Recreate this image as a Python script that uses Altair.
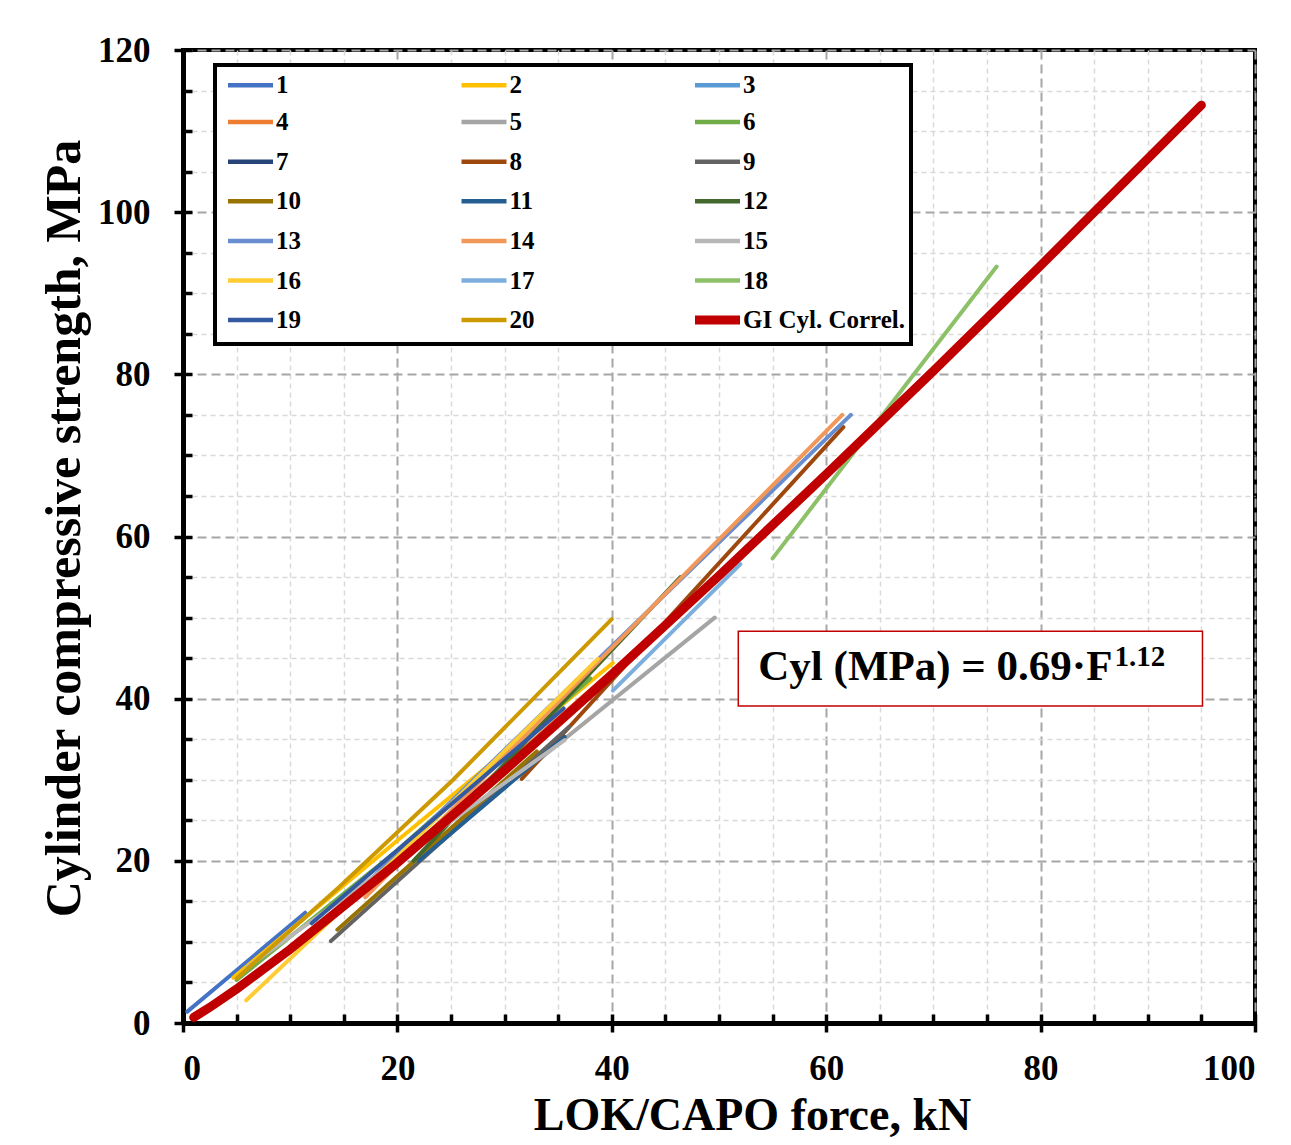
import altair as alt
import pandas as pd

FONT = "Liberation Serif"

series_names = [str(i) for i in range(1, 21)] + ["GI Cyl. Correl."]
series_colors = [
    "#4472C4", "#FFC000", "#5B9BD5", "#ED7D31", "#A5A5A5", "#70AD47",
    "#264478", "#9E480E", "#636363", "#997300", "#255E91", "#43682B",
    "#698ED0", "#F1975A", "#B7B7B7", "#FFCD33", "#7CAFDD", "#8CC168",
    "#335AA1", "#CC9A00", "#C00000",
]

# LOK/CAPO force (kN) and cylinder strength (MPa), series 1..20
series_f = [
    [0.4, 11.4],
    [4.7, 20.0, 40.1],
    [62.0, 80.0, 95.0],
    [18.0, 45.0],
    [22.0, 49.6],
    [5.0, 20.0, 38.0],
    [16.0, 36.0],
    [31.6, 61.6],
    [13.8, 36.0],
    [14.4, 33.0],
    [22.0, 35.6],
    [21.5, 46.4],
    [15.0, 62.3],
    [17.0, 61.5],
    [6.0, 35.6],
    [5.9, 20.0, 38.7],
    [40.1, 52.0],
    [55.0, 75.9],
    [12.0, 35.5],
    [5.0, 14.6, 25.2, 40.0],
]
series_c = [
    [1.4, 13.6],
    [5.6, 22.5, 44.4],
    [70.2, 93.6, 113.5],
    [17.8, 49.2],
    [20.5, 50.0],
    [5.3, 21.3, 42.5],
    [15.5, 38.5],
    [30.1, 73.5],
    [10.1, 36.5],
    [11.5, 33.5],
    [20.0, 35.3],
    [20.0, 55.0],
    [14.5, 75.0],
    [15.5, 75.0],
    [6.9, 34.9],
    [2.8, 20.5, 44.9],
    [41.0, 56.6],
    [57.3, 93.3],
    [12.3, 38.8],
    [5.5, 16.8, 30.0, 49.8],
]

# GI cylinder correlation curve
correl_f = [1, 2.5, 5, 10, 20, 30, 40, 50, 60, 70, 80, 95]
correl_c = [0.69, 1.93, 4.19, 9.09, 19.77, 31.14, 42.97, 55.16, 67.67, 80.42, 93.41, 113.2]

x_major = [0, 20, 40, 60, 80, 100]
x_minor = [5, 10, 15, 25, 30, 35, 45, 50, 55, 65, 70, 75, 85, 90, 95]
y_major = [0, 20, 40, 60, 80, 100, 120]
y_minor = [5, 10, 15, 25, 30, 35, 45, 50, 55, 65, 70, 75, 85, 90, 95, 105, 110, 115]

# equation annotation
box_x = [51.8]
box_x2 = [95.1]
box_y = [39.1]
box_y2 = [48.3]
eq_text = ["Cyl (MPa) = 0.69\u00b7F"]
eq_x = [86.7]
eq_y = [42.3]
sup_text = ["1.12"]
sup_x = [86.9]
sup_y = [44.0]

rows = []
for name, fs, cs in zip(series_names[:20], series_f, series_c):
    for f, c in zip(fs, cs):
        rows.append({"series": name, "F": f, "C": c})
df_series = pd.DataFrame(rows)
df_corr = pd.DataFrame({"series": series_names[20], "F": correl_f, "C": correl_c})
df_box = pd.DataFrame({"F": box_x, "F2": box_x2, "C": box_y, "C2": box_y2})
df_eq = pd.DataFrame({"F": eq_x, "C": eq_y, "t": eq_text})
df_sup = pd.DataFrame({"F": sup_x, "C": sup_y, "t": sup_text})

xs = alt.Scale(domain=[0, 100], nice=False, zero=False)
ys = alt.Scale(domain=[0, 120], nice=False, zero=False)

lab = dict(labelFont=FONT, labelFontSize=35, labelFontWeight="bold", labelColor="black")
tick = dict(tickColor="black", tickWidth=3.5, tickSize=9)

x_axis_major = alt.Axis(orient="bottom", values=x_major, domain=True, domainWidth=5,
                        domainColor="black", labelPadding=19, grid=True, gridColor="#A6A6A6",
                        gridDash=[9, 5], gridWidth=2, title="LOK/CAPO force, kN",
                        titleFont=FONT, titleFontSize=46, titleFontWeight="bold",
                        titleColor="black", titlePadding=7, titleX=569, **lab, **tick)
y_axis_major = alt.Axis(orient="left", values=y_major, domain=True, domainWidth=5,
                        domainColor="black", labelPadding=24, grid=True, gridColor="#A6A6A6",
                        gridDash=[9, 5], gridWidth=2, title="Cylinder compressive strength, MPa",
                        titleFont=FONT, titleFontSize=50, titleFontWeight="bold",
                        titleColor="black", titlePadding=8, titleY=478, **lab, **tick)
x_axis_minor = alt.Axis(orient="bottom", values=x_minor, offset=-9, domain=False, labels=False,
                        grid=True, gridColor="#D9D9D9", gridDash=[5, 4], gridWidth=1.5,
                        title=None, **tick)
y_axis_minor = alt.Axis(orient="left", values=y_minor, offset=-9, domain=False, labels=False,
                        grid=True, gridColor="#D9D9D9", gridDash=[5, 4], gridWidth=1.5,
                        title=None, **tick)
x_axis_inner = alt.Axis(orient="bottom", values=x_major, offset=-9, domain=False, labels=False,
                        grid=False, title=None, **tick)
y_axis_inner = alt.Axis(orient="left", values=y_major, offset=-9, domain=False, labels=False,
                        grid=False, title=None, **tick)

legend = alt.Legend(
    title=None, orient="none", legendX=32, legendY=15, columns=3, direction="horizontal",
    gridAlign="all", columnPadding=4.5, rowPadding=2.6, symbolType="stroke", symbolSize=2025,
    symbolOffset=18,
    symbolStrokeWidth=alt.ExprRef("datum.value === 'GI Cyl. Correl.' ? 9 : 4.5"),
    labelFont=FONT, labelFontSize=25, labelFontWeight="bold",
    labelColor="black", labelOffset=13, labelLimit=400, padding=5, strokeColor="black",
    fillColor="white",
)
color = alt.Color("series:N", scale=alt.Scale(domain=series_names, range=series_colors),
                  sort=series_names, legend=legend)

lines = alt.Chart(df_series).mark_line(strokeWidth=4, strokeCap="round").encode(
    x=alt.X("F:Q", scale=xs, axis=x_axis_major),
    y=alt.Y("C:Q", scale=ys, axis=y_axis_major),
    color=color,
    detail="series:N",
)
red = alt.Chart(df_corr).mark_line(strokeWidth=9, strokeCap="round").encode(
    x=alt.X("F:Q", scale=xs, axis=x_axis_minor),
    y=alt.Y("C:Q", scale=ys, axis=y_axis_minor),
    color=color,
)
box = alt.Chart(df_box).mark_rect(fill="white", stroke="#C00000", strokeWidth=1.5).encode(
    x=alt.X("F:Q", scale=xs, axis=x_axis_inner),
    x2="F2:Q",
    y=alt.Y("C:Q", scale=ys, axis=y_axis_inner),
    y2="C2:Q",
)
eq = alt.Chart(df_eq).mark_text(align="right", baseline="alphabetic", font=FONT,
                                fontSize=43, fontWeight="bold", color="black").encode(
    x=alt.X("F:Q", scale=xs, axis=None),
    y=alt.Y("C:Q", scale=ys, axis=None),
    text="t:N",
)
sup = alt.Chart(df_sup).mark_text(align="left", baseline="alphabetic", font=FONT,
                                  fontSize=29, fontWeight="bold", color="black").encode(
    x=alt.X("F:Q", scale=xs, axis=None),
    y=alt.Y("C:Q", scale=ys, axis=None),
    text="t:N",
)

chart = alt.layer(lines, red, box, eq, sup).resolve_axis(
    x="independent", y="independent"
).properties(
    width=1072, height=973,
    autosize=alt.AutoSizeParams(type="none"),
    padding={"left": 183, "top": 50, "right": 36, "bottom": 122},
    background="white",
).configure_view(stroke="black", strokeWidth=4).configure_legend(strokeWidth=4)

chart.save("out.html", embed_options={"renderer": "svg", "actions": False})
